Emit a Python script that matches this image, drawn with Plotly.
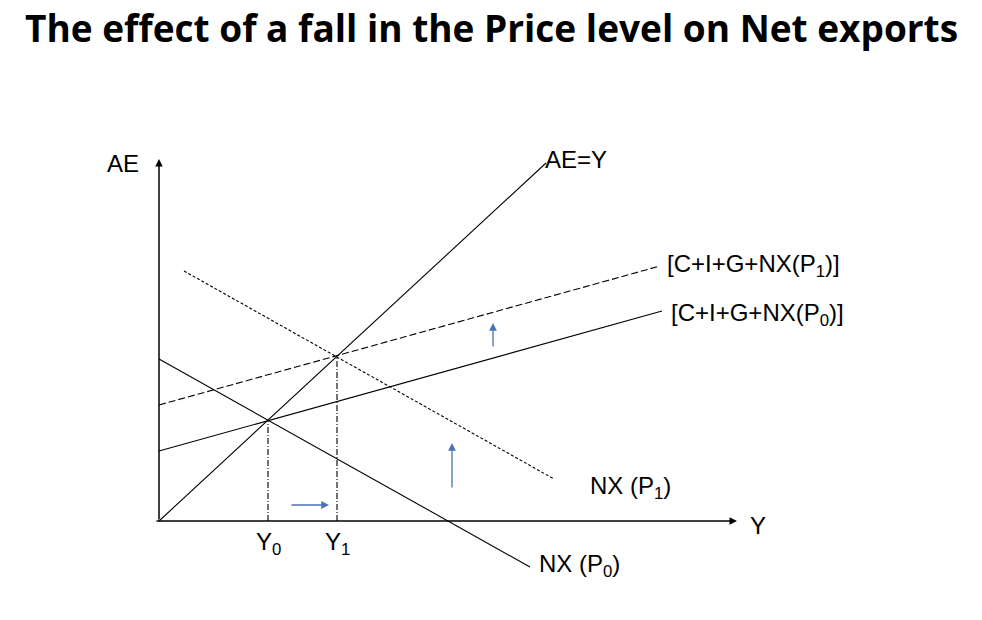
import plotly.graph_objects as go

# diagram units: origin of the AE/Y axes at (0, 0)
ae_y_x = [0, 387]
ae_y_y = [0, 358]

ae0_x = [0, 503]
ae0_y = [70, 210]

ae1_x = [0, 501]
ae1_y = [116, 255]

nx0_x = [0, 371]
nx0_y = [162, -46]

nx1_x = [25, 395]
nx1_y = [250, 42]

y_levels = [109, 178]
eq_levels = [101, 165]
y_names = ["Y<sub>0</sub>", "Y<sub>1</sub>"]

axis_len_x = 578
axis_len_y = 362

shift_arrows = [  # (tail x, tail y, head x, head y)
    (131, 16, 170, 16),
    (293, 32, 293, 78),
    (334, 173, 334, 198),
]

fig = go.Figure()

def add_line(xs, ys, dash="solid", width=1.1):
    fig.add_trace(go.Scatter(x=xs, y=ys, mode="lines",
                             line=dict(color="black", width=width, dash=dash),
                             hoverinfo="skip", showlegend=False))

add_line(ae_y_x, ae_y_y)
add_line(ae0_x, ae0_y)
add_line(ae1_x, ae1_y, dash="7px,3px")
add_line(nx0_x, nx0_y)
add_line(nx1_x, nx1_y, dash="3px,2px")
for yl, el in zip(y_levels, eq_levels):
    add_line([yl, yl], [0, el], dash="6px,2px,1px,2px")

# axes with arrow heads
fig.add_annotation(x=0, y=axis_len_y, ax=0, ay=0, xref="x", yref="y",
                   axref="x", ayref="y", text="", showarrow=True,
                   arrowhead=2, arrowsize=1, arrowwidth=1.5, arrowcolor="black")
fig.add_annotation(x=axis_len_x, y=0, ax=-4, ay=0, xref="x", yref="y",
                   axref="x", ayref="y", text="", showarrow=True,
                   arrowhead=2, arrowsize=1, arrowwidth=1.5, arrowcolor="black")

for tx, ty, hx, hy in shift_arrows:
    fig.add_annotation(x=hx, y=hy, ax=tx, ay=ty, xref="x", yref="y",
                       axref="x", ayref="y", text="", showarrow=True,
                       arrowhead=2, arrowsize=1.2, arrowwidth=1.3,
                       arrowcolor="#4a72b8")

lbl = dict(family="Liberation Sans, Arial, sans-serif", size=24, color="black")

def label(x, y, text, anchor="left"):
    fig.add_annotation(x=x, y=y, xref="x", yref="y", text=text,
                       showarrow=False, xanchor=anchor, yanchor="middle", font=lbl)

label(-36, 358, "AE", "center")
label(384, 362, "AE=Y")
label(506, 256, "[C+I+G+NX(P<sub>1</sub>)]")
label(510, 207, "[C+I+G+NX(P<sub>0</sub>)]")
label(429, 34, "NX (P<sub>1</sub>)")
label(378, -44, "NX (P<sub>0</sub>)")
label(599, -4, "Y", "center")
for yl, nm in zip(y_levels, y_names):
    label(yl, -22, nm, "center")

fig.add_annotation(x=0.5, y=1, xref="paper", yref="paper", xanchor="center",
                   yanchor="top", showarrow=False,
                   text="<b>The effect of a fall in the Price level on Net exports</b>",
                   font=dict(family="Open Sans, sans-serif", size=37, color="black"))

fig.update_layout(
    width=982, height=620,
    margin=dict(l=0, r=0, t=0, b=0),
    paper_bgcolor="white", plot_bgcolor="white",
    xaxis=dict(range=[-159, 823], visible=False, fixedrange=True),
    yaxis=dict(range=[-99, 521], visible=False, fixedrange=True),
)

# drop the default 8px page margin so the figure fills the window
fig.write_html("out.html", config={"displayModeBar": False},
               post_script="document.body.style.margin = '0';")
